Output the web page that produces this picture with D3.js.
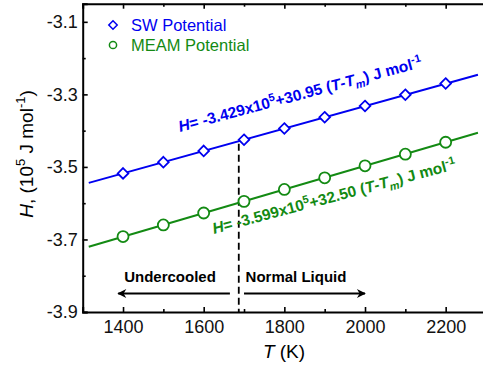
<!DOCTYPE html>
<html>
<head>
<meta charset="utf-8">
<script src="https://cdn.jsdelivr.net/npm/d3@7"></script>
<style>
  body { margin: 0; background: #fff; }
  svg { display: block; font-family: Arial, "Liberation Sans", sans-serif; }
  .axis path, .axis line { stroke: #000; }
  .axis path { stroke-width: 2; }
  .axis line { stroke-width: 1.6; }
  .axis text { font-size: 18px; fill: #111; font-family: Arial, "Liberation Sans", sans-serif; }
</style>
</head>
<body>
<div id="chart"></div>
<script>
// data
var temps = [1400, 1500, 1600, 1700, 1800, 1900, 2000, 2100, 2200];
var swH   = [-3.518, -3.487, -3.456, -3.425, -3.394, -3.363, -3.332, -3.301, -3.270];
var meamH = [-3.692, -3.660, -3.627, -3.595, -3.562, -3.530, -3.497, -3.465, -3.432];
// fitted lines, end points
var swFit   = [[1315, -3.544], [2280, -3.246]];
var meamFit = [[1315, -3.720], [2280, -3.406]];
var meltT = 1687;
var xMajor = [1400, 1600, 1800, 2000, 2200];
var xMinor = [1300, 1500, 1700, 1900, 2100];
var yMajor = [-3.9, -3.7, -3.5, -3.3, -3.1];
var yMinor = [-3.8, -3.6, -3.4, -3.2];
var regionArrowY = -3.849;
var undercooledT = [1665, 1388];
var normalT = [1700, 2000];

var W = 483, H = 370;
var blue = "#0000f0", green = "#138a13";

var x = d3.scaleLinear().domain([1300, 2300]).range([82.7, 486]);
var y = d3.scaleLinear().domain([-3.9, -3.05]).range([312, 3.7]);

var svg = d3.select("#chart").append("svg").attr("width", W).attr("height", H);

var defs = svg.append("defs");
defs.append("marker").attr("id", "arr")
    .attr("viewBox", "0 0 10 10").attr("refX", 9).attr("refY", 5)
    .attr("markerWidth", 11).attr("markerHeight", 9).attr("markerUnits", "userSpaceOnUse")
    .attr("orient", "auto")
  .append("path").attr("d", "M0,0 L10,5 L0,10 L3,5 Z").attr("fill", "#000");

var yFmt = function(d){ return d3.format(".1f")(d).replace("\u2212", "-"); };

// axes
svg.append("g").attr("class", "axis").attr("transform", "translate(0,312)")
    .call(d3.axisBottom(x).tickValues(xMajor).tickSize(-5).tickPadding(8).tickFormat(d3.format("d")));
svg.append("g").attr("class", "axis").attr("transform", "translate(0,312)")
    .call(d3.axisBottom(x).tickValues(xMinor).tickSize(-3).tickFormat(""))
    .select(".domain").remove();
svg.append("g").attr("class", "axis").attr("transform", "translate(0,3.7)")
    .call(d3.axisTop(x).tickValues(xMajor).tickSize(-5).tickFormat(""));
svg.append("g").attr("class", "axis").attr("transform", "translate(0,3.7)")
    .call(d3.axisTop(x).tickValues(xMinor).tickSize(-3).tickFormat(""))
    .select(".domain").remove();
svg.append("g").attr("class", "axis").attr("transform", "translate(82.7,0)")
    .call(d3.axisLeft(y).tickValues(yMajor).tickSize(-5).tickPadding(5).tickFormat(yFmt));
svg.append("g").attr("class", "axis").attr("transform", "translate(82.7,0)")
    .call(d3.axisLeft(y).tickValues(yMinor).tickSize(-3).tickFormat(""))
    .select(".domain").remove();

// dashed melting line
svg.append("line")
    .attr("x1", x(meltT)).attr("x2", x(meltT))
    .attr("y1", y(swH[3]) + 4).attr("y2", 312)
    .attr("stroke", "#000").attr("stroke-width", 1.8).attr("stroke-dasharray", "7,4");

// fit lines
var line = d3.line().x(function(d){ return x(d[0]); }).y(function(d){ return y(d[1]); });
svg.append("path").datum(swFit).attr("d", line).attr("fill", "none").attr("stroke", blue).attr("stroke-width", 2);
svg.append("path").datum(meamFit).attr("d", line).attr("fill", "none").attr("stroke", green).attr("stroke-width", 2);

// markers
var diamond = d3.symbol().type(d3.symbolDiamond2).size(72);
svg.selectAll(".sw").data(temps).enter().append("path")
    .attr("transform", function(d, i){ return "translate(" + x(d) + "," + y(swH[i]) + ")"; })
    .attr("d", diamond).attr("fill", "#fff").attr("stroke", blue).attr("stroke-width", 1.8);
svg.selectAll(".meam").data(temps).enter().append("circle")
    .attr("cx", function(d){ return x(d); }).attr("cy", function(d, i){ return y(meamH[i]); })
    .attr("r", 5.5).attr("fill", "#fff").attr("stroke", green).attr("stroke-width", 1.8);

// legend
svg.append("path").attr("transform", "translate(113,25)")
    .attr("d", d3.symbol().type(d3.symbolDiamond2).size(45)).attr("fill", "#fff").attr("stroke", blue).attr("stroke-width", 1.5);
svg.append("text").attr("x", 131).attr("y", 31).attr("fill", blue).style("font-size", "16.5px").text("SW Potential");
svg.append("circle").attr("cx", 113).attr("cy", 45).attr("r", 3.6).attr("fill", "#fff").attr("stroke", green).attr("stroke-width", 1.5);
svg.append("text").attr("x", 131).attr("y", 51).attr("fill", green).style("font-size", "16.5px").text("MEAM Potential");

// equations
function equation(px, py, color, lead, coef) {
  var t = svg.append("text").attr("transform", "translate(" + px + "," + py + ") rotate(-15)")
      .attr("fill", color).style("font-size", "15.5px").style("font-weight", "bold");
  t.append("tspan").style("font-style", "italic").text("H");
  t.append("tspan").text(lead + "x10");
  t.append("tspan").attr("dy", -6).style("font-size", "11px").text("5");
  t.append("tspan").attr("dy", 6).text("+" + coef + " (");
  t.append("tspan").style("font-style", "italic").text("T");
  t.append("tspan").text("-");
  t.append("tspan").style("font-style", "italic").text("T");
  t.append("tspan").attr("dy", 4).style("font-size", "11px").style("font-style", "italic").text("m");
  t.append("tspan").attr("dy", -4).text(") J mol");
  t.append("tspan").attr("dy", -6).style("font-size", "11px").text("-1");
}
equation(180, 132, blue, "= -3.429", "30.95");
equation(214, 234, green, "= -3.599", "32.50");

// region arrows and labels
svg.append("line").attr("x1", x(undercooledT[0])).attr("x2", x(undercooledT[1]))
    .attr("y1", y(regionArrowY)).attr("y2", y(regionArrowY))
    .attr("stroke", "#000").attr("stroke-width", 2).attr("marker-end", "url(#arr)");
svg.append("line").attr("x1", x(normalT[0])).attr("x2", x(normalT[1]))
    .attr("y1", y(regionArrowY)).attr("y2", y(regionArrowY))
    .attr("stroke", "#000").attr("stroke-width", 2).attr("marker-end", "url(#arr)");
svg.append("text").attr("x", 170).attr("y", 282).attr("text-anchor", "middle")
    .style("font-size", "15px").style("font-weight", "bold").text("Undercooled");
svg.append("text").attr("x", 296).attr("y", 282).attr("text-anchor", "middle")
    .style("font-size", "15px").style("font-weight", "bold").text("Normal Liquid");

// axis titles
var xt = svg.append("text").attr("x", 284).attr("y", 358).attr("text-anchor", "middle").style("font-size", "19px");
xt.append("tspan").style("font-style", "italic").text("T");
xt.append("tspan").text(" (K)");

var yt = svg.append("text").attr("transform", "translate(33,154) rotate(-90)")
    .attr("text-anchor", "middle").style("font-size", "19px");
yt.append("tspan").style("font-style", "italic").text("H");
yt.append("tspan").text(", (10");
yt.append("tspan").attr("dy", -8).style("font-size", "13px").text("5");
yt.append("tspan").attr("dy", 8).text(" J mol");
yt.append("tspan").attr("dy", -8).style("font-size", "13px").text("-1");
yt.append("tspan").attr("dy", 8).text(")");
</script>
</body>
</html>
